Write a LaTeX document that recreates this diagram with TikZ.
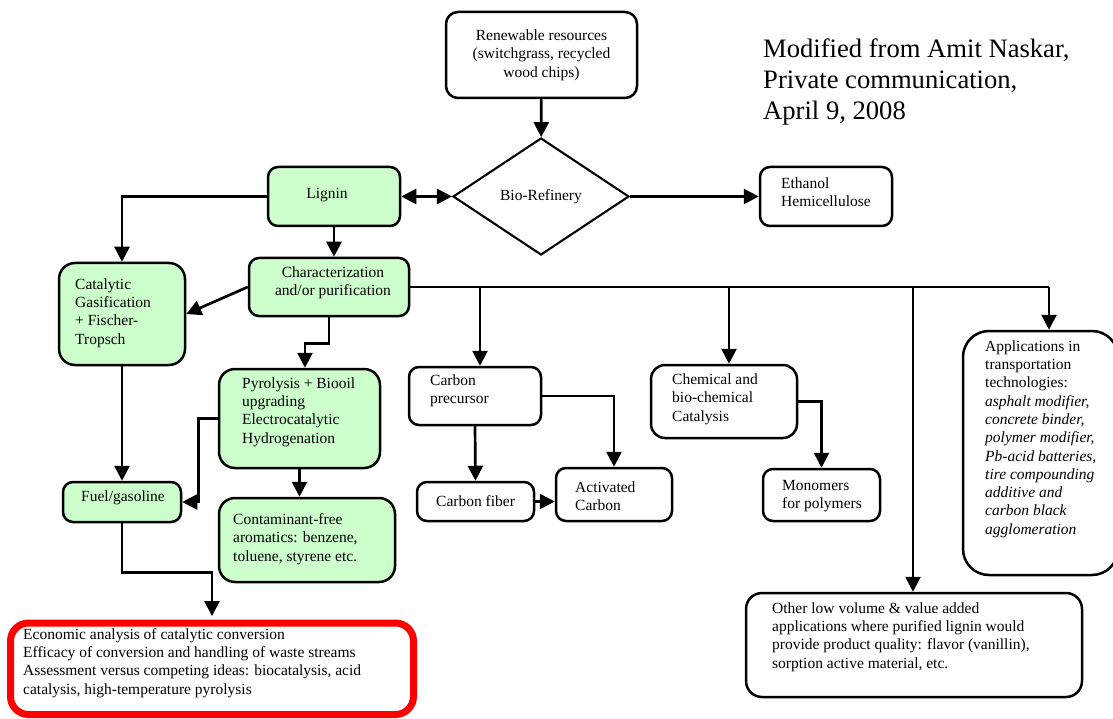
\documentclass[tikz,border=0pt]{standalone}
\usepackage{fontspec}
\setmainfont{Liberation Serif}
\usetikzlibrary{arrows.meta,shapes.geometric}
\definecolor{mint}{HTML}{CCFFCC}
\begin{document}
\begin{tikzpicture}[x=1pt,y=-1pt,
  box/.style={draw, line width=2.5pt, rounded corners=10pt, inner sep=0pt},
  greenbox/.style={box, fill=mint},
  txt/.style={inner sep=0pt, align=left, font=\fontsize{15.5}{18.3}\selectfont},
  ctxt/.style={txt, align=center},
  link/.style={line width=2.7pt, -{Triangle[length=15pt,width=15pt]}},
  bilink/.style={line width=2.7pt, {Triangle[length=15pt,width=15pt]}-{Triangle[length=15pt,width=15pt]}},
  wire/.style={line width=2.7pt}
]
\useasboundingbox (0,0) rectangle (1113,719);

% ---- boxes ----
\node[box, minimum width=191pt, minimum height=86pt, rounded corners=12pt] (ren) at (541.5,55) {};
\node[draw, diamond, line width=2.1pt, minimum width=176pt, minimum height=117pt, inner sep=0pt, aspect=1.5] (bio) at (541,196.5) {};
\node[greenbox, minimum width=132pt, minimum height=59pt] (lig) at (334,196.5) {};
\node[box, minimum width=132pt, minimum height=59pt] (eth) at (826,196.5) {};
\node[greenbox, minimum width=126pt, minimum height=102pt, rounded corners=16pt] (cat) at (122,314) {};
\node[greenbox, minimum width=160pt, minimum height=58pt] (chr) at (329,287) {};
\node[greenbox, minimum width=161pt, minimum height=99pt, rounded corners=16pt] (pyr) at (299.5,418.5) {};
\node[greenbox, minimum width=118pt, minimum height=40pt] (fuel) at (122,502) {};
\node[greenbox, minimum width=176pt, minimum height=84pt, rounded corners=16pt] (cont) at (307,540) {};
\node[draw=red, line width=7pt, rounded corners=18pt, inner sep=0pt, minimum width=403pt, minimum height=91.5pt] (eval) at (212,668.75) {};
\node[box, minimum width=132pt, minimum height=58pt] (cpre) at (475,396) {};
\node[box, minimum width=116pt, minimum height=53pt] (act) at (614,494.5) {};
\node[box, minimum width=117pt, minimum height=39pt] (cfib) at (475.5,501.5) {};
\node[box, minimum width=146pt, minimum height=73pt, rounded corners=14pt] (chem) at (724,401.5) {};
\node[box, minimum width=117pt, minimum height=52pt] (mono) at (821.5,495) {};
\node[box, minimum width=155pt, minimum height=244pt, rounded corners=26pt] (app) at (1040.5,453) {};
\node[box, minimum width=336pt, minimum height=104pt, rounded corners=16pt] (oth) at (914,645) {};

% ---- texts ----
\node[ctxt] (ren-t) at (541.5,55) {Renewable resources\\(switchgrass, recycled\\wood chips)};
\node[ctxt] (bio-t) at (541,196.5) {Bio-Refinery};
\node[ctxt] (lig-t) at (327,195) {Lignin};
\node[txt, anchor=west] (eth-t) at (781,192) {Ethanol\\Hemicellulose};
\node[txt, anchor=west] (cat-t) at (75,313) {Catalytic\\Gasification\\+ Fischer-\\Tropsch};
\node[ctxt] (chr-t) at (333,283) {Characterization\\and/or purification};
\node[txt, anchor=west] (pyr-t) at (242,412) {Pyrolysis + Biooil\\upgrading\\Electrocatalytic\\Hydrogenation};
\node[ctxt] (fuel-t) at (123,498) {Fuel/gasoline};
\node[txt, anchor=west] (cont-t) at (233,539) {Contaminant-free\\aromatics: benzene,\\toluene, styrene etc.};
\node[txt, anchor=west] (eval-t) at (23,663) {Economic analysis of catalytic conversion\\Efficacy of conversion and handling of waste streams\\Assessment versus competing ideas: biocatalysis, acid\\catalysis, high-temperature pyrolysis};
\node[txt, anchor=west] (cpre-t) at (430,391) {Carbon\\precursor};
\node[txt, anchor=west] (cfib-t) at (436,501) {Carbon fiber};
\node[txt, anchor=west] (act-t) at (575,496) {Activated\\Carbon};
\node[txt, anchor=west] (chem-t) at (672,399) {Chemical and\\bio-chemical\\Catalysis};
\node[txt, anchor=west] (mono-t) at (782,496) {Monomers\\for polymers};
\node[txt, anchor=west] (app-t) at (985,439) {Applications in\\transportation\\technologies:\\\itshape asphalt modifier,\\\itshape concrete binder,\\\itshape polymer modifier,\\\itshape Pb-acid batteries,\\\itshape tire compounding\\\itshape additive and\\\itshape carbon black\\\itshape agglomeration};
\node[txt, anchor=west] (oth-t) at (772,637) {Other low volume \& value added\\applications where purified lignin would\\provide product quality: flavor (vanillin),\\sorption active material, etc.};
\node[inner sep=0pt, align=left, anchor=west, font=\fontsize{26.6}{31}\selectfont] (src) at (763,82) {Modified from Amit Naskar,\\Private communication,\\April 9, 2008};

% ---- connectors ----
\draw[link] (ren) -- (bio);
\draw[bilink] (lig.east) -- (bio.west);
\draw[link] (bio.east) -- (eth.west);
\draw[link] (lig.west) -| (cat.north);
\draw[link] (lig.south) -- (lig.south |- chr.north);
\draw[link] (chr.west) -- (cat.east);
\draw[link] (chr.south) -- ++(0,26) -| ([xshift=5.5pt]pyr.north);
\draw[link] (pyr.west) -- ++(-19,0) |- (fuel.east);
\draw[link] (cat.south) -- (fuel.north);
\draw[link] (pyr.south) -- (pyr.south |- cont.north);
\draw[link] (fuel.south) -- ++(0,49) -| ([yshift=3.5pt]eval.north);

\coordinate (b1) at (480,287);
\coordinate (b2) at (729,287);
\coordinate (b3) at (913,287);
\coordinate (b4) at (1049,287);
\draw[wire] (chr.east) -- (b4);
\draw[link] (b1) -- (b1 |- cpre.north);
\draw[link] (b2) -- (b2 |- chem.north);
\draw[link] (b3) -- (b3 |- oth.north);
\draw[link] (b4) -- (b4 |- app.north);
\draw[link] (cpre.south) -- (cfib.north);
\draw[link] (cpre.east) -| (act.north);
\draw[link] (cfib.east) -- (cfib.east -| act.west);
\draw[link] (chem.east) -| (mono.north);
\end{tikzpicture}
\end{document}
